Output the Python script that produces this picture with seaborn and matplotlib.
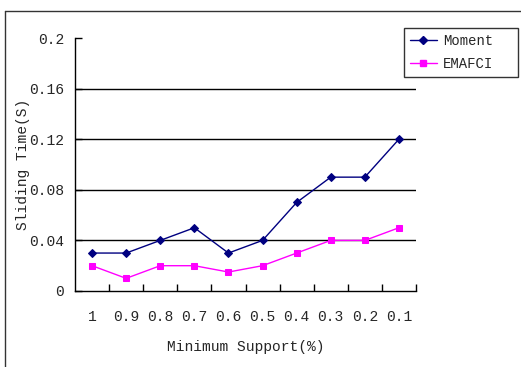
import matplotlib
matplotlib.use("Agg")
import matplotlib.pyplot as plt
from matplotlib.lines import Line2D
import seaborn as sns
import pandas as pd

categories = ["1", "0.9", "0.8", "0.7", "0.6", "0.5", "0.4", "0.3", "0.2", "0.1"]
moment = [0.03, 0.03, 0.04, 0.05, 0.03, 0.04, 0.07, 0.09, 0.09, 0.12]
emafci = [0.02, 0.01, 0.02, 0.02, 0.015, 0.02, 0.03, 0.04, 0.04, 0.05]
yticks = [0, 0.04, 0.08, 0.12, 0.16, 0.2]
ytick_labels = ["0", "0.04", "0.08", "0.12", "0.16", "0.2"]

sns.set_theme(style="white")
plt.rcParams['font.family'] = ['Liberation Mono', 'DejaVu Sans']

W, H = 521, 367
fig = plt.figure(figsize=(W / 100, H / 100), dpi=100)
ax = fig.add_axes([75 / W, 1 - 291 / H, (416 - 75) / W, (291 - 38) / H])

df = pd.DataFrame({
    "support": categories * 2,
    "time": moment + emafci,
    "series": ["Moment"] * len(categories) + ["EMAFCI"] * len(categories),
})

sns.pointplot(data=df, x="support", y="time", hue="series",
              palette={"Moment": "#000080", "EMAFCI": "#FF00FF"},
              markers=["D", "s"], linestyles=["-", "-"],
              markersize=4.5, linewidth=1, ax=ax, legend=False, order=categories)

ax.set_xlim(-0.5, len(categories) - 0.5)
ax.set_ylim(0, 0.2)
ax.set_yticks(yticks)
ax.set_yticklabels(ytick_labels, fontsize=10.5)
for y in yticks[1:-1]:
    ax.axhline(y, color="black", linewidth=1, zorder=0)

ax.set_xticks(range(len(categories)))
ax.set_xticklabels(categories, fontsize=10.5)
ax.tick_params(axis="x", length=0, pad=14)
ax.set_xticks([i + 0.5 for i in range(len(categories))], minor=True)
ax.tick_params(axis="x", which="minor", direction="in", length=5, width=1, color="black", bottom=True)
ax.tick_params(axis="y", direction="in", length=5, width=1, color="black", left=True, pad=8)

for s in ["top", "right"]:
    ax.spines[s].set_visible(False)
for s in ["left", "bottom"]:
    ax.spines[s].set_color("black")
    ax.spines[s].set_linewidth(1)

ax.set_xlabel("Minimum Support(%)", fontsize=10.5, labelpad=11)
ax.set_ylabel("Sliding Time(S)", fontsize=10.5, labelpad=-1)

handles = [
    Line2D([], [], color="#000080", marker="D", markersize=4.5, linewidth=1),
    Line2D([], [], color="#FF00FF", marker="s", markersize=4.5, linewidth=1),
]
leg = fig.legend(handles, ["Moment", "EMAFCI"], loc="upper left",
                 bbox_to_anchor=(404 / W, 1 - 76 / H, 114 / W, 48 / H), mode="expand",
                 fontsize=10, frameon=True, fancybox=False, edgecolor="black",
                 handlelength=2.0, handletextpad=0.4, borderpad=0.4,
                 labelspacing=0.7, borderaxespad=0)
leg.get_frame().set_linewidth(1)

# outer frame
fig.add_artist(Line2D([5 / W, 5 / W], [0, 1 - 11 / H], color="#333333", linewidth=1, transform=fig.transFigure))
fig.add_artist(Line2D([5 / W, 1], [1 - 11 / H, 1 - 11 / H], color="#333333", linewidth=1, transform=fig.transFigure))

fig.savefig("out.png", dpi=100)
